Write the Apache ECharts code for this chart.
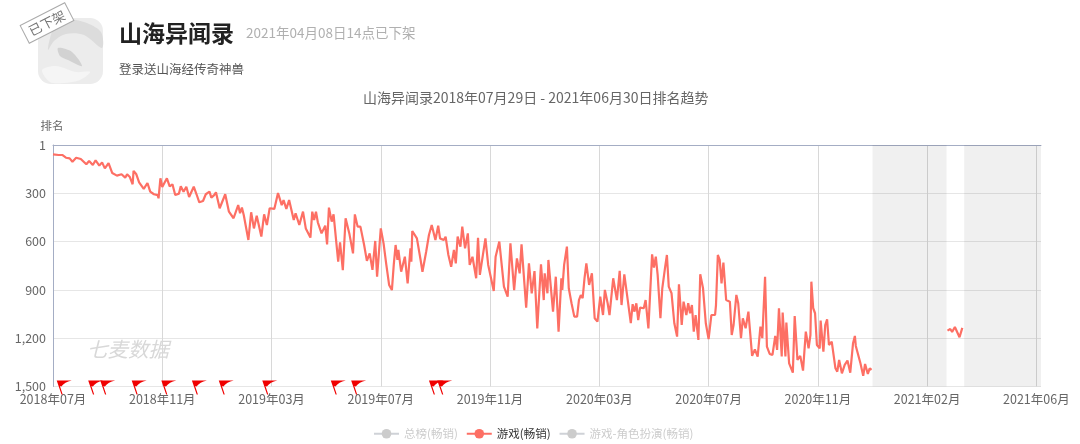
<!DOCTYPE html>
<html>
<head>
<meta charset="utf-8">
<style>
html, body { margin: 0; padding: 0; background: #fff; }
#container { width: 1080px; height: 444px; }
</style>
<script src="https://cdn.jsdelivr.net/npm/echarts@6/dist/echarts.min.js"></script>
</head>
<body>
<div id="container"></div>
<script>
const FONT = '"Noto Sans CJK SC", "Noto Sans", sans-serif';

const appName = '山海异闻录';
const offShelfNote = '2021年04月08日14点已下架';
const appSlogan = '登录送山海经传奇神兽';
const chartTitle = '山海异闻录2018年07月29日 - 2021年06月30日排名趋势';
const legendNames = ['总榜(畅销)', '游戏(畅销)', '游戏-角色扮演(畅销)'];
const firstDay = '2018-07-29';
const lastDay = '2021-06-30';

// [days since firstDay, rank]
const gameRanks = [
    [0,58],[6,62],[10,62],[14,79],[18,83],[21,104],[25,79],[30,87],[36,120],[39,99],[43,124],[46,95],
    [50,128],[53,108],[56,145],[60,112],[64,174],[69,190],[74,182],[78,203],[80,182],[83,199],[86,244],
    [87,161],[90,182],[93,232],[98,273],[102,236],[105,290],[109,306],[113,311],[114,331],[116,207],
    [118,261],[123,207],[126,257],[129,244],[132,311],[136,302],[138,257],[141,290],[144,259],[147,323],
    [152,259],[155,306],[158,356],[162,348],[165,306],[169,290],[171,327],[174,311],[176,294],[180,393],
    [186,306],[190,414],[195,455],[200,373],[202,424],[204,389],[206,435],[211,590],[214,418],[217,518],
    [220,439],[225,569],[228,431],[231,497],[234,393],[239,397],[243,298],[247,373],[249,342],[252,397],
    [255,342],[260,466],[262,424],[266,497],[270,414],[273,518],[278,575],[280,414],[282,466],[284,414],
    [286,480],[290,549],[294,501],[296,617],[298,389],[301,476],[303,431],[308,725],[310,604],[313,778],
    [316,455],[320,549],[324,673],[326,431],[329,507],[332,507],[336,621],[339,720],[342,673],[345,776],
    [348,596],[350,818],[354,518],[357,611],[360,745],[363,869],[366,901],[368,745],[370,621],[372,714],
    [373,652],[376,787],[380,694],[383,859],[386,642],[387,725],[388,534],[393,580],[397,714],[399,787],
    [403,663],[406,559],[409,497],[413,590],[416,501],[418,580],[422,590],[424,570],[427,683],[430,756],
    [433,652],[435,735],[437,569],[440,632],[442,507],[445,642],[448,549],[450,745],[453,694],[457,828],
    [459,576],[461,807],[463,818],[467,580],[470,745],[476,907],[478,694],[482,600],[484,611],[487,880],
    [491,942],[494,611],[498,901],[501,704],[504,797],[506,617],[511,1010],[514,735],[517,921],[520,783],
    [523,1139],[527,741],[530,963],[531,797],[534,921],[535,714],[540,1035],[543,818],[546,1159],
    [549,828],[550,900],[552,745],[555,631],[557,890],[560,983],[563,1066],[566,1066],[568,963],[570,932],
    [572,952],[574,828],[576,735],[579,869],[582,797],[585,1076],[588,1097],[591,942],[594,1056],[596,900],
    [599,983],[601,1056],[605,828],[609,963],[612,782],[614,994],[617,803],[624,1107],[626,989],[628,1035],
    [630,983],[632,1087],[634,1010],[638,1014],[640,963],[643,1139],[645,1149],[647,679],[649,762],[651,693],
    [653,807],[656,1076],[658,890],[661,762],[663,683],[665,880],[668,921],[671,1107],[674,1190],[676,865],
    [679,1118],[681,973],[684,1056],[686,983],[688,1045],[690,994],[692,1159],[694,1056],[697,1211],[699,803],
    [702,890],[705,1107],[708,1205],[711,1056],[715,1056],[716,994],[718,683],[720,714],[722,859],[724,731],
    [727,963],[731,973],[733,1180],[735,1118],[738,931],[740,983],[743,1200],[745,1076],[748,1138],[751,1035],
    [755,1310],[758,1269],[761,1314],[764,1128],[766,1200],[769,818],[771,1252],[774,1298],[777,1304],
    [780,1186],[782,1273],[784,1014],[787,1314],[788,1041],[791,1314],[792,1103],[795,1356],[799,1414],
    [801,1062],[804,1335],[807,1310],[810,1401],[813,1159],[816,1263],[818,1180],[819,849],[821,1014],
    [823,1045],[825,1242],[828,1263],[829,1091],[832,1283],[834,1118],[836,1083],[838,1242],[841,1221],
    [845,1387],[847,1408],[849,1335],[852,1418],[855,1366],[858,1339],[861,1414],[864,1232],[866,1186],
    [867,1248],[869,1252],[872,1356],[875,1434],[877,1360],[880,1422],[882,1387],[884,1397],
    [925,'-'],
    [966,1153],[969,1143],[971,1161],[974,1130],[979,1194],[982,1136]
];

const eventDates = ['2018-08-02','2018-09-05','2018-09-18','2018-10-22','2018-11-23','2018-12-26',
    '2019-01-24','2019-03-12','2019-05-25','2019-06-16','2019-09-08','2019-09-17'];

const noDataSpans = [['2020-12-30','2021-03-20'],['2021-04-08','2021-06-30']];

// every day of the range is one category
let days = [];
for (let t = Date.parse(firstDay); t <= Date.parse(lastDay); t += 86400000) {
    days.push(new Date(t).toISOString().slice(0, 10));
}

const labelEvery = function (index) {
    return index % 118 === 0;
};

const flagPath = 'path://M0,0 L15,0 C10,1 7,3 4.6,6 L3.2,5.4 L6,14 L4.8,14 L0,0 Z';

let myChart = echarts.init(document.getElementById('container'), null, {renderer: 'canvas'});

let option = {
    animation: false,
    textStyle: {fontFamily: FONT},
    title: {
        text: chartTitle,
        left: 358,
        top: 86,
        textStyle: {color: '#666', fontSize: 14, fontWeight: 'normal', fontFamily: FONT}
    },
    legend: {
        data: legendNames,
        selected: {[legendNames[0]]: false, [legendNames[1]]: true, [legendNames[2]]: false},
        left: 368,
        top: 423,
        itemGap: 8,
        itemWidth: 25,
        itemHeight: 12,
        inactiveColor: '#ccc',
        textStyle: {color: '#333', fontSize: 11.5, fontFamily: FONT}
    },
    grid: {left: 53, right: 39, top: 145, bottom: 57.5},
    xAxis: {
        type: 'category',
        data: days,
        boundaryGap: false,
        axisLine: {lineStyle: {color: '#a4adc4', width: 1}},
        axisTick: {show: false},
        axisLabel: {
            interval: labelEvery,
            hideOverlap: false,
            color: '#666',
            fontSize: 12.5,
            margin: 6,
            formatter: function (value) {
                return value.slice(0, 4) + '年' + value.slice(5, 7) + '月';
            }
        },
        splitLine: {show: true, interval: labelEvery, lineStyle: {color: '#d8d8d8', width: 1}}
    },
    yAxis: {
        type: 'value',
        inverse: true,
        min: 0,
        max: 1500,
        interval: 300,
        name: '排名',
        nameLocation: 'start',
        nameGap: 14,
        nameTextStyle: {color: '#666', fontSize: 11.5, align: 'center', padding: [0, 2, 0, 0]},
        axisLine: {show: true, lineStyle: {color: '#a4adc4', width: 1}},
        axisTick: {show: false},
        axisLabel: {
            color: '#666',
            fontSize: 12.5,
            margin: 7,
            formatter: function (value) {
                return value === 0 ? '1' : value.toLocaleString('en-US');
            }
        },
        splitLine: {lineStyle: {color: '#e6e6e6', width: 1}}
    },
    series: [
        {
            name: legendNames[0],
            type: 'line',
            data: [],
            color: '#ccc',
            symbol: 'circle',
            symbolSize: 10
        },
        {
            name: legendNames[1],
            type: 'line',
            data: gameRanks,
            color: '#fd6f64',
            symbol: 'circle',
            symbolSize: 10,
            showSymbol: false,
            lineStyle: {width: 2.2},
            markArea: {
                silent: true,
                itemStyle: {color: 'rgba(0,0,0,0.06)'},
                data: noDataSpans.map(function (s) {
                    return [{xAxis: s[0]}, {xAxis: s[1]}];
                })
            },
            markPoint: {
                silent: true,
                symbol: flagPath,
                symbolSize: [15, 14],
                symbolOffset: [7.5, 1],
                itemStyle: {color: '#f00000'},
                label: {show: false},
                data: eventDates.map(function (d) {
                    return {coord: [d, 1500]};
                })
            }
        },
        {
            name: legendNames[2],
            type: 'line',
            data: [],
            color: '#bbb',
            symbol: 'circle',
            symbolSize: 10
        }
    ],
    graphic: [
        // app icon, greyed out
        {type: 'rect', x: 38, y: 18, shape: {width: 65, height: 66, r: 13}, style: {fill: '#ececec'}},
        {type: 'polygon', shape: {points: [[62,20],[84,22],[101,32],[102,48],[84,35],[66,34],[54,41],[48,50],[52,32]], smooth: 0.3}, style: {fill: '#dcdcdc'}},
        {type: 'polygon', shape: {points: [[58,48],[72,52],[82,66],[68,60],[60,56]], smooth: 0.3}, style: {fill: '#d2d2d2'}},
        {type: 'polygon', shape: {points: [[42,70],[56,66],[76,72],[90,72],[80,80],[64,83],[50,82]], smooth: 0.3}, style: {fill: '#f5f5f5'}},
        {
            type: 'group',
            x: 47,
            y: 23,
            rotation: 27 * Math.PI / 180,
            children: [
                {type: 'rect', shape: {x: -25, y: -10, width: 50, height: 20}, style: {fill: '#fff', stroke: '#aaa', lineWidth: 1}},
                {type: 'text', style: {text: '已下架', x: 0, y: 0, align: 'center', verticalAlign: 'middle', fill: '#777', font: '13px ' + FONT}}
            ]
        },
        {type: 'text', x: 119, y: 22, style: {text: appName, fill: '#222', font: 'bold 23px ' + FONT}},
        {type: 'text', x: 246, y: 26, style: {text: offShelfNote, fill: '#b0b0b0', font: '13.5px ' + FONT}},
        {type: 'text', x: 119, y: 63, style: {text: appSlogan, fill: '#555', font: '12.5px ' + FONT}},
        {type: 'text', x: 87, y: 339, style: {text: '七麦数据', fill: '#d8d8d8', font: 'italic 20.5px ' + FONT}}
    ]
};

myChart.setOption(option);
</script>
</body>
</html>
